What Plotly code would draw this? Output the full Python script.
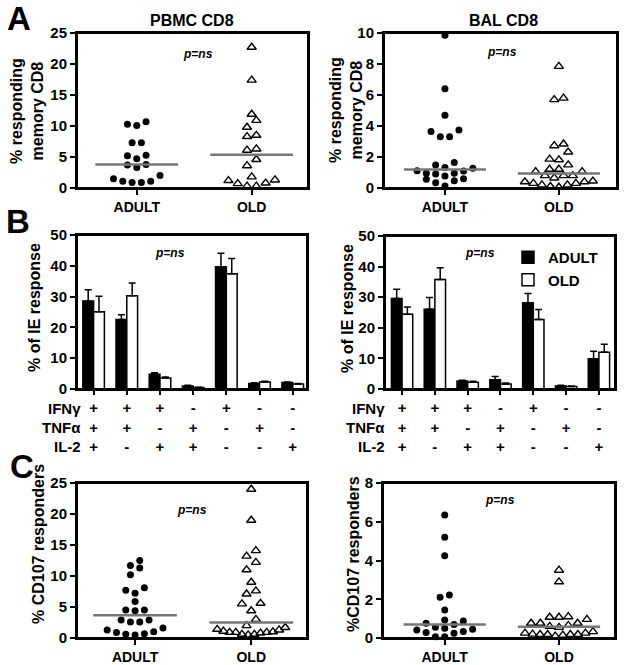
import numpy as np
import plotly.graph_objects as go

W, H = 624, 665
FONT = "Liberation Sans, Arial, Helvetica, sans-serif"

# ---------------- data ----------------
groups = ["ADULT", "OLD"]

# Panel A: % responding memory CD8
pbmc_cd8_adult = [10.7, 10.1, 10.3, 7.3, 7.3, 4.7, 5.2, 5.3, 3.7, 3.3, 3.8,
                  1.5, 1.1, 0.9, 0.9, 1.1, 2.0]
pbmc_cd8_old = [22.7, 17.4, 11.9, 10.9, 9.8, 8.3, 8.5, 6.3, 6.1, 4.6, 3.6,
                1.8, 1.2, 0.7, 0.3, 0.3, 0.8, 1.3]
bal_cd8_adult = [9.85, 6.4, 4.7, 3.75, 3.3, 3.3, 3.65, 1.64, 1.49, 1.32, 1.28,
                 1.12, 1.1, 0.95, 0.95, 0.91, 0.78, 0.6, 0.56, 0.47, 0.34, 0.13]
bal_cd8_old = [7.85, 5.7, 5.8, 2.73, 2.84, 2.32, 1.86, 1.82, 1.49, 1.21, 1.21,
               1.06, 1.06, 0.8, 0.8, 0.8, 0.65, 0.45, 0.4, 0.4, 0.3, 0.3,
               0.2, 0.2, 0.1, 0.05]

# Panel B: % of IE response by cytokine combination
ifng = ["+", "+", "+", "-", "+", "-", "-"]
tnfa = ["+", "+", "-", "+", "-", "+", "-"]
il2 = ["+", "-", "+", "+", "-", "-", "+"]

pbmc_ie_adult = [28.6, 22.6, 4.8, 1.0, 39.7, 1.8, 2.1]
pbmc_ie_adult_err = [3.6, 1.5, 0.5, 0.2, 4.4, 0.2, 0.2]
pbmc_ie_old = [25.1, 30.3, 3.6, 0.5, 37.4, 2.3, 1.6]
pbmc_ie_old_err = [5.0, 4.1, 0.3, 0.1, 5.0, 0.2, 0.2]
bal_ie_adult = [29.6, 26.1, 2.6, 3.0, 28.2, 1.0, 9.9]
bal_ie_adult_err = [3.0, 3.8, 0.3, 1.1, 3.0, 0.2, 2.4]
bal_ie_old = [24.4, 35.8, 2.2, 1.6, 22.7, 0.8, 12.0]
bal_ie_old_err = [2.4, 3.8, 0.3, 0.4, 3.3, 0.2, 2.6]

# Panel C: % CD107 responders
pbmc_cd107_adult = [12.5, 11.7, 11.3, 10.2, 8.1, 7.7, 7.2, 5.9, 4.5, 4.4, 4.5,
                    2.9, 2.6, 2.6, 2.9, 1.6, 1.0, 0.6, 0.5, 0.7, 0.9, 1.3]
pbmc_cd107_old = [24.0, 19.0, 14.1, 13.2, 12.2, 11.0, 9.0, 7.6, 7.1, 5.6, 5.5,
                  4.4, 3.0, 2.0, 1.7, 1.4, 1.1, 0.9, 0.9, 0.6, 0.5, 0.6, 0.8,
                  0.9, 1.0, 1.3]
bal_cd107_adult = [6.35, 5.2, 4.25, 2.22, 2.1, 1.44, 0.88, 0.7, 0.55, 0.76, 0.93,
                   0.45, 0.33, 0.24, 0.07, 0.07, 0.28, 0.41, 0.5]
bal_cd107_old = [3.5, 2.9, 1.07, 1.07, 1.1, 0.96, 0.76, 0.76, 0.76, 0.6, 0.55,
                 0.65, 0.33, 0.25, 0.2, 0.18, 0.18, 0.1, 0.15, 0.18, 0.18, 0.25]

# ---------------- layout helpers ----------------
def px_x(p):
    return p / W


def px_y(p):
    return 1 - p / H


P = {
    1: dict(xd=(77, 308), yd=(33, 188), xr=(-0.52, 1.49), yr=(0, 25), dt=5),
    2: dict(xd=(384, 617), yd=(33, 188), xr=(-0.535, 1.51), yr=(0, 10), dt=2),
    3: dict(xd=(77, 307), yd=(235, 389), xr=(-0.5, 6.43), yr=(0, 50), dt=10),
    4: dict(xd=(385, 615), yd=(236, 389), xr=(-0.52, 6.49), yr=(0, 50), dt=10),
    5: dict(xd=(77, 307), yd=(483, 638), xr=(-0.5, 1.48), yr=(0, 25), dt=5),
    6: dict(xd=(383, 615), yd=(483, 638), xr=(-0.54, 1.49), yr=(0, 8), dt=2),
}


def ax(i):
    return "" if i == 1 else str(i)


def swarm(vals, center, thr, step, maxw):
    vals = np.asarray(vals, dtype=float)
    order = np.argsort(vals, kind="stable")
    xs = np.zeros(len(vals))
    rows, cur, start = [], [], None
    for i in order:
        v = vals[i]
        if cur and v - start <= thr:
            cur.append(i)
        else:
            if cur:
                rows.append(cur)
            cur, start = [i], v
    if cur:
        rows.append(cur)
    for row in rows:
        n = len(row)
        st = step if n < 2 else min(step, maxw / (n - 1))
        slots = [(k - (n - 1) / 2) * st for k in range(n)]
        slots = sorted(slots, key=lambda s: (abs(s), s))
        for idx, s in zip(row, slots):
            xs[idx] = center + s
    return xs


fig = go.Figure()


def add_dot_panel(i, adult, old, thr_px=8.0, step_px=9.3, maxw_px=68.0):
    p = P[i]
    ppx = (p["xd"][1] - p["xd"][0]) / (p["xr"][1] - p["xr"][0])
    ppy = (p["yd"][1] - p["yd"][0]) / (p["yr"][1] - p["yr"][0])
    a = ax(i)
    styles = [
        dict(symbol="circle", size=7, color="black", line=dict(width=0)),
        dict(symbol="triangle-up-open", size=8, color="black", line=dict(width=1.4, color="black")),
    ]
    for gi, vals in enumerate([adult, old]):
        xs = swarm(vals, gi, thr_px / ppy, step_px / ppx, maxw_px / ppx)
        fig.add_trace(go.Scatter(x=xs, y=vals, mode="markers", marker=styles[gi],
                                 xaxis="x" + a, yaxis="y" + a, cliponaxis=False,
                                 showlegend=False, hoverinfo="y"))
    for gi, vals in enumerate([adult, old]):
        m = float(np.median(vals))
        fig.add_trace(go.Scatter(x=[gi - 0.36, gi + 0.36], y=[m, m], mode="lines",
                                 line=dict(color="#767676", width=2.5),
                                 xaxis="x" + a, yaxis="y" + a, showlegend=False,
                                 hoverinfo="skip"))


def add_bar_panel(i, adult, adult_err, old, old_err, legend):
    a = ax(i)
    cats = list(range(len(ifng)))
    fig.add_trace(go.Bar(x=cats, y=adult, name="ADULT", xaxis="x" + a, yaxis="y" + a,
                         marker=dict(color="black", line=dict(color="black", width=1.5)),
                         error_y=dict(type="data", array=adult_err, arrayminus=[0] * len(cats),
                                      symmetric=False, color="black", thickness=1.5, width=3.5),
                         showlegend=legend, legendgroup="a"))
    fig.add_trace(go.Bar(x=cats, y=old, name="OLD", xaxis="x" + a, yaxis="y" + a,
                         marker=dict(color="white", line=dict(color="black", width=1.5)),
                         error_y=dict(type="data", array=old_err, arrayminus=[0] * len(cats),
                                      symmetric=False, color="black", thickness=1.5, width=3.5),
                         showlegend=legend, legendgroup="o"))


add_dot_panel(1, pbmc_cd8_adult, pbmc_cd8_old)
add_dot_panel(2, bal_cd8_adult, bal_cd8_old)
add_bar_panel(3, pbmc_ie_adult, pbmc_ie_adult_err, pbmc_ie_old, pbmc_ie_old_err, False)
add_bar_panel(4, bal_ie_adult, bal_ie_adult_err, bal_ie_old, bal_ie_old_err, True)
add_dot_panel(5, pbmc_cd107_adult, pbmc_cd107_old)
add_dot_panel(6, bal_cd107_adult, bal_cd107_old)

layout = dict(
    template="none",
    width=W, height=H, autosize=False,
    margin=dict(l=0, r=0, t=0, b=0, pad=0),
    paper_bgcolor="white", plot_bgcolor="white",
    font=dict(family=FONT, color="black"),
    barmode="group", bargap=0.35, bargroupgap=0,
    legend=dict(x=px_x(508), y=px_y(241), xanchor="left", yanchor="top",
                bgcolor="rgba(0,0,0,0)", font=dict(size=15, weight="bold"),
                traceorder="normal", itemwidth=30),
)

bar_ticktext = [f"{a}<br>{b}<br>{c}" for a, b, c in zip(ifng, tnfa, il2)]

shapes = []
for i, p in P.items():
    a = ax(i)
    is_bar = i in (3, 4)
    xa = dict(domain=[px_x(p["xd"][0]), px_x(p["xd"][1])], range=list(p["xr"]),
              anchor="y" + a, showline=True, linewidth=2, linecolor="black", mirror=True,
              showgrid=False, zeroline=False, ticks="outside", ticklen=5, tickwidth=1.5,
              tickcolor="black", fixedrange=True, automargin=False)
    if is_bar:
        xa.update(tickmode="array", tickvals=list(range(len(ifng))), ticktext=bar_ticktext,
                  tickfont=dict(size=15, weight="bold"), ticklen=4)
    else:
        xa.update(tickmode="array", tickvals=[0, 1], ticktext=groups,
                  tickfont=dict(size=14, weight="bold"))
    ya = dict(domain=[px_y(p["yd"][1]), px_y(p["yd"][0])], range=list(p["yr"]),
              anchor="x" + a, showline=True, linewidth=2, linecolor="black", mirror=True,
              showgrid=False, zeroline=False, ticks="outside", ticklen=5, tickwidth=1.5,
              tickcolor="black", dtick=p["dt"], tick0=0, automargin=False,
              tickfont=dict(size=15, weight="bold"), fixedrange=True)
    layout["xaxis" + a] = xa
    layout["yaxis" + a] = ya
    # plot frame (box around the plotting area)
    shapes.append(dict(type="rect", xref="paper", yref="paper",
                       x0=px_x(p["xd"][0]), x1=px_x(p["xd"][1]),
                       y0=px_y(p["yd"][1]), y1=px_y(p["yd"][0]),
                       line=dict(color="black", width=2),
                       fillcolor="rgba(0,0,0,0)", layer="above"))

ann = []


def text(x, y, s, size=15, bold=True, italic=False, xanchor="center", yanchor="middle", angle=0):
    ann.append(dict(x=px_x(x), y=px_y(y), xref="paper", yref="paper", text=s, showarrow=False,
                    xanchor=xanchor, yanchor=yanchor, textangle=angle,
                    font=dict(size=size, weight="bold" if bold else "normal",
                              style="italic" if italic else "normal", family=FONT, color="black")))


# panel letters
text(5, 18, "A", size=33, xanchor="left")
text(4, 222, "B", size=33, xanchor="left")
text(8, 466, "C", size=33, xanchor="left")

# titles
text(192, 20, "PBMC CD8", size=16)
text(503, 20, "BAL CD8", size=16)

# y titles
text(27, 111, "% responding<br>memory CD8", size=16, angle=-90)
text(346, 110, "% responding<br>memory CD8", size=16, angle=-90)
text(34, 308, "% of IE response", size=16, angle=-90)
text(347, 309, "% of IE response", size=16, angle=-90)
text(38, 544, "% CD107 responders", size=16, angle=-90)
text(353, 554, "%CD107 responders", size=16, angle=-90)

# p = ns
for (x, y) in [(198, 54), (502, 52), (170, 253), (480, 253), (192, 510), (500, 500)]:
    text(x, y, "p=ns", size=12, italic=True)

# cytokine row labels
row_names = ["IFNγ", "TNFα", "IL-2"]
row_y = [408, 427, 446]
for nm, yy in zip(row_names, row_y):
    text(83, yy, nm, size=15, xanchor="right")
    text(387, yy, nm, size=15, xanchor="right")

layout["annotations"] = ann
layout["shapes"] = shapes
fig.update_layout(**layout)
fig.write_html("out.html", config={"displayModeBar": False},
               post_script="document.body.style.margin='0';document.body.style.overflow='hidden';")
